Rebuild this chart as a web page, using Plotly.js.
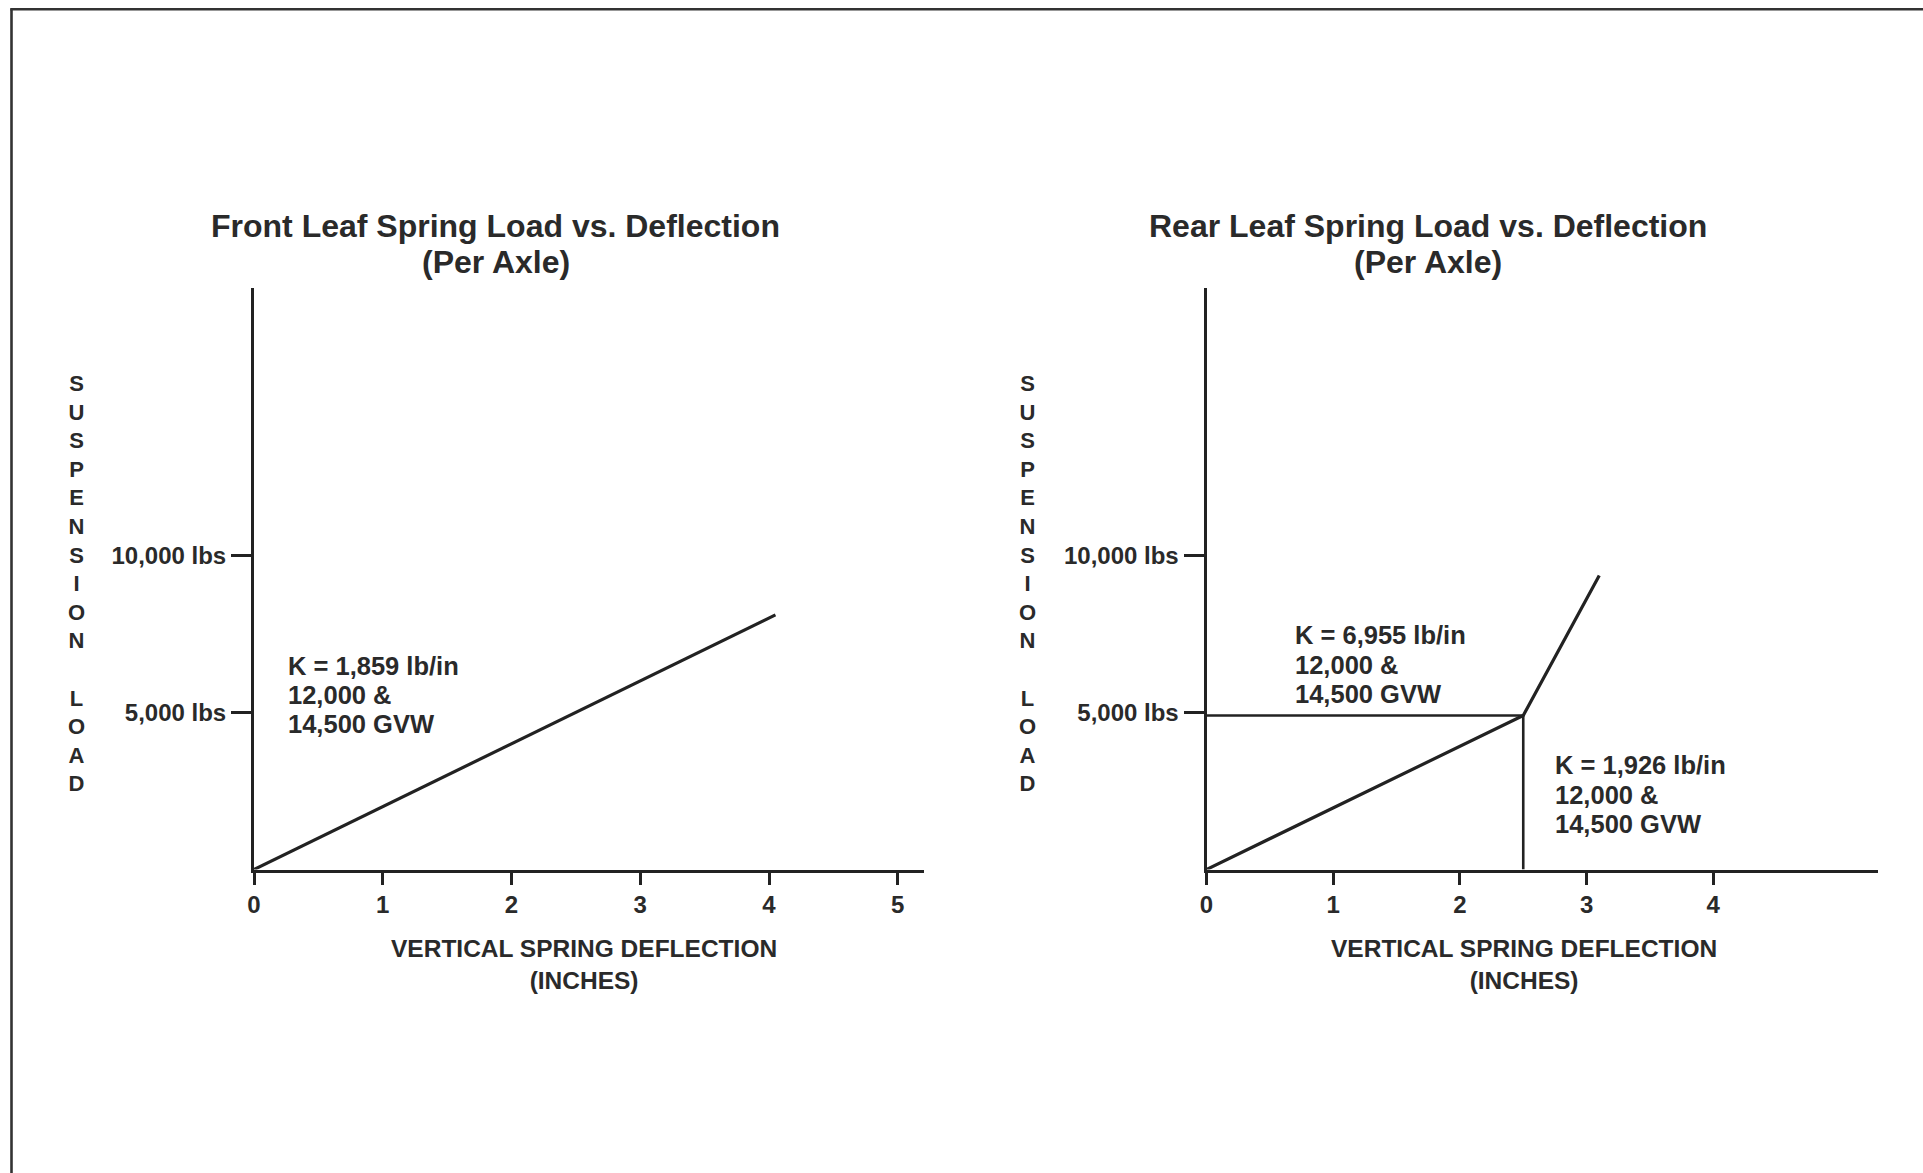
<!DOCTYPE html>
<html>
<head>
<meta charset="utf-8">
<script src="https://cdn.plot.ly/plotly-3.0.1.min.js"></script>
<style>
  html, body { margin: 0; padding: 0; background: #ffffff; }
  #chart { width: 1923px; height: 1173px; }
</style>
</head>
<body>
<div id="chart"></div>
<script>
// ---- Data ----
const frontDeflection = [0, 4.05];          // inches
const frontLoad = [0, 8100];                // lbs
const rearDeflection = [0, 2.5, 3.1];       // inches
const rearLoad = [0, 4900, 9350];           // lbs (knee at 2.5 in)
const frontXTicks = [0, 1, 2, 3, 4, 5];
const rearXTicks = [0, 1, 2, 3, 4];
const yTickVals = [5000, 10000];
const yTickText = ['5,000 lbs', '10,000 lbs'];
const frontTitleLines = ['Front Leaf Spring Load vs. Deflection', '(Per Axle)'];
const rearTitleLines = ['Rear Leaf Spring Load vs. Deflection', '(Per Axle)'];
const xTitle = 'VERTICAL SPRING DEFLECTION<br>(INCHES)';
const yTitleLetters = ['S','U','S','P','E','N','S','I','O','N','\u00A0','L','O','A','D'];
const frontNoteLines = ['K = 1,859 lb/in', '12,000 &', '14,500 GVW'];
const rearNoteUpperLines = ['K = 6,955 lb/in', '12,000 &', '14,500 GVW'];
const rearNoteLowerLines = ['K = 1,926 lb/in', '12,000 &', '14,500 GVW'];

// ---- Layout helpers ----
const W = 1923, H = 1173;
const px = x => x / W;
const py = y => 1 - y / H;
const INK = '#222222';
const TXT = '#2a2a2a';
const FONT = 'Liberation Sans, Arial, Helvetica, sans-serif';

const kneeX = rearDeflection[1];
const kneeY = rearLoad[1];

const traces = [
  { x: frontDeflection, y: frontLoad, xaxis: 'x', yaxis: 'y', mode: 'lines',
    line: { color: INK, width: 3.2 }, cliponaxis: false, hoverinfo: 'skip' },
  { x: rearDeflection, y: rearLoad, xaxis: 'x2', yaxis: 'y2', mode: 'lines',
    line: { color: INK, width: 3.2 }, cliponaxis: false, hoverinfo: 'skip' },
  { x: [0, kneeX], y: [kneeY, kneeY], xaxis: 'x2', yaxis: 'y2', mode: 'lines',
    line: { color: INK, width: 2.6 }, cliponaxis: false, hoverinfo: 'skip' },
  { x: [kneeX, kneeX], y: [0, kneeY], xaxis: 'x2', yaxis: 'y2', mode: 'lines',
    line: { color: INK, width: 2.6 }, cliponaxis: false, hoverinfo: 'skip' }
];

const xAxisBase = {
  showline: true, linewidth: 3, linecolor: INK, mirror: false,
  showgrid: false, zeroline: false,
  ticks: 'outside', ticklen: 12, tickwidth: 3, tickcolor: INK,
  tickmode: 'array',
  tickfont: { family: FONT, size: 24, color: TXT, weight: 'bold' },
  fixedrange: true
};
const yAxisBase = {
  showline: true, linewidth: 3, linecolor: INK, mirror: false,
  showgrid: false, zeroline: false,
  ticks: 'outside', ticklen: 20, tickwidth: 3, tickcolor: INK,
  tickmode: 'array', tickvals: yTickVals, ticktext: yTickText,
  tickfont: { family: FONT, size: 24, color: TXT, weight: 'bold' },
  range: [0, 18500], domain: [py(869.5), py(288)],
  fixedrange: true
};

const titleFont = { family: FONT, size: 32, color: TXT, weight: 'bold' };
const axTitleFont = { family: FONT, size: 24.5, color: TXT, weight: 'bold' };
const noteFont = { family: FONT, size: 25.5, color: TXT, weight: 'bold' };
const vFont = { family: FONT, size: 22, color: TXT, weight: 'bold' };

function ann(text, x, y, font, xanchor, align) {
  return { text: text, xref: 'paper', yref: 'paper', x: px(x), y: py(y),
    xanchor: xanchor || 'center', yanchor: 'middle', align: align || 'center',
    showarrow: false, font: font };
}
function lines(arr, x, ys, font, xanchor, align) {
  return arr.map((t, i) => ann(t, x, ys[i], font, xanchor, align));
}

const yTitle = yTitleLetters.join('<br>');

const annotations = [].concat(
  lines(frontTitleLines, 495.5, [225.6, 262.4], titleFont),
  lines(rearTitleLines, 1427.5, [225.6, 262.4], titleFont),
  [ann(xTitle, 583.8, 964.5, axTitleFont),
   ann(xTitle, 1524.4, 964.5, axTitleFont),
   ann(yTitle, 76.5, 583, vFont),
   ann(yTitle, 1027.7, 583, vFont)],
  lines(frontNoteLines, 285.7, [666, 694.5, 723.6], noteFont, 'left', 'left'),
  lines(rearNoteUpperLines, 1292.6, [635.3, 664.7, 694], noteFont, 'left', 'left'),
  lines(rearNoteLowerLines, 1552.6, [765.3, 794.7, 824], noteFont, 'left', 'left')
);

const layout = {
  width: W, height: H,
  margin: { l: 0, r: 0, t: 0, b: 0, pad: 0 },
  paper_bgcolor: '#ffffff', plot_bgcolor: '#ffffff',
  showlegend: false, hovermode: false,
  xaxis: Object.assign({}, xAxisBase, {
    range: [0, 5.2], domain: [px(254), px(923.5)], anchor: 'y',
    tickvals: frontXTicks, ticktext: frontXTicks.map(String)
  }),
  yaxis: Object.assign({}, yAxisBase, { anchor: 'x' }),
  xaxis2: Object.assign({}, xAxisBase, {
    range: [0, 5.3], domain: [px(1206.5), px(1878)], anchor: 'y2',
    tickvals: rearXTicks, ticktext: rearXTicks.map(String)
  }),
  yaxis2: Object.assign({}, yAxisBase, { anchor: 'x2' }),
  annotations: annotations,
  shapes: [
    { type: 'line', xref: 'paper', yref: 'paper',
      x0: px(11.5), y0: 0, x1: px(11.5), y1: py(9.3),
      line: { color: '#333333', width: 2.6 } },
    { type: 'line', xref: 'paper', yref: 'paper',
      x0: px(10.2), y0: py(9.3), x1: 1, y1: py(9.3),
      line: { color: '#333333', width: 2.6 } }
  ]
};

Plotly.newPlot('chart', traces, layout, { staticPlot: true, displayModeBar: false, responsive: false });
</script>
</body>
</html>
